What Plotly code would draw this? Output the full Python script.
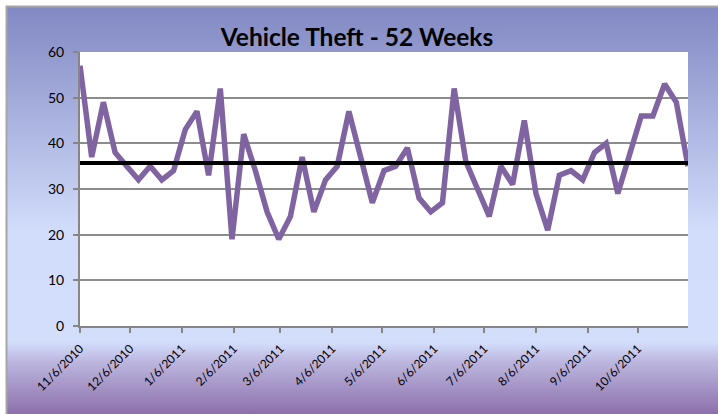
import base64
import numpy as np
import pandas as pd
import plotly.graph_objects as go

# ---- data ----
start_date = "2010-11-06"
weekly_thefts = [57, 37, 49, 38, 35, 32, 35, 32, 34, 43,
                 47, 33, 52, 19, 42, 34, 25, 19, 24, 37,
                 25, 32, 35, 47, 37, 27, 34, 35, 39, 28,
                 25, 27, 52, 36, 30, 24, 35, 31, 45, 29,
                 21, 33, 34, 32, 38, 40, 29, 38, 46, 46,
                 53, 49, 35]
week_dates = pd.date_range(start_date, periods=len(weekly_thefts), freq="7D")
average_value = float(np.mean(weekly_thefts))
tick_dates = ["2010-11-06", "2010-12-06", "2011-01-06", "2011-02-06", "2011-03-06",
              "2011-04-06", "2011-05-06", "2011-06-06", "2011-07-06", "2011-08-06",
              "2011-09-06", "2011-10-06"]
tick_labels = ["11/6/2010", "12/6/2010", "1/6/2011", "2/6/2011", "3/6/2011",
               "4/6/2011", "5/6/2011", "6/6/2011", "7/6/2011", "8/6/2011",
               "9/6/2011", "10/6/2011"]
y_ticks = [0, 10, 20, 30, 40, 50, 60]
title_text = "Vehicle Theft - 52 Weeks"

# ---- layout geometry (pixels) ----
W, H = 718, 414
L, R, T, B = 80, 688, 52, 326
PW, PH = R - L, B - T

def px(x):
    return (x - L) / PW

def py(y):
    return (B - y) / PH

svg = ('<svg xmlns="http://www.w3.org/2000/svg" width="100" height="100" preserveAspectRatio="none">'
       '<defs><linearGradient id="g" x1="0" y1="0" x2="0" y2="1">'
       '<stop offset="0" stop-color="#8288C3"/>'
       '<stop offset="0.55" stop-color="#D2DDFB"/>'
       '<stop offset="0.82" stop-color="#D3DEFB"/>'
       '<stop offset="0.865" stop-color="#BDB8E0"/>'
       '<stop offset="1" stop-color="#8A6DA8"/>'
       '</linearGradient></defs>'
       '<rect width="100" height="100" fill="url(#g)"/></svg>')
svg_uri = "data:image/svg+xml;base64," + base64.b64encode(svg.encode()).decode()

fig = go.Figure()
fig.add_trace(go.Scatter(x=week_dates, y=weekly_thefts, mode="lines",
                         line=dict(color="#8064A2", width=5.5), hoverinfo="skip",
                         showlegend=False))
fig.add_trace(go.Scatter(x=week_dates, y=[average_value] * len(weekly_thefts), mode="lines",
                         line=dict(color="#000000", width=4), hoverinfo="skip",
                         showlegend=False))

fig.add_layout_image(dict(source=svg_uri, xref="paper", yref="paper",
                          x=px(7), y=py(7), sizex=(W + 2 - 7) / PW, sizey=(H + 2 - 7) / PH,
                          sizing="stretch", xanchor="left", yanchor="top", layer="below"))

fig.add_shape(type="rect", xref="paper", yref="paper", x0=0, x1=1, y0=0, y1=1,
              fillcolor="white", line=dict(width=0), layer="below")
fig.add_shape(type="rect", xref="paper", yref="paper",
              x0=px(6.5), x1=px(W + 5), y0=py(6.5), y1=py(H + 5),
              fillcolor="rgba(0,0,0,0)", line=dict(color="#A6A6A6", width=2), layer="below")

fig.update_layout(
    width=W, height=H, autosize=False,
    margin=dict(l=L, r=W - R, t=T, b=H - B, pad=0),
    paper_bgcolor="white", plot_bgcolor="rgba(0,0,0,0)",
    font=dict(family="Lato, Carlito, sans-serif", color="black"),
    title=dict(text="<b>" + title_text + "</b>", x=357 / W, xref="container", xanchor="center",
               y=1 - 37 / H, yref="container", yanchor="middle",
               font=dict(size=24.5, family="Lato, sans-serif", color="black")),
    xaxis=dict(type="date", range=[week_dates[0], week_dates[-1]],
               tickvals=tick_dates, ticktext=tick_labels, tickangle=-45,
               tickfont=dict(size=12, color="black"), ticklabelstandoff=4,
               showgrid=False, zeroline=False,
               showline=True, linecolor="#868686", linewidth=2,
               ticks="outside", ticklen=5, tickcolor="#868686", tickwidth=2),
    yaxis=dict(range=[0, 60], tickvals=y_ticks, ticktext=[str(v) for v in y_ticks],
               tickfont=dict(size=14, color="black"), ticklabelstandoff=6,
               showgrid=True, gridcolor="#8C8C8C", gridwidth=1.5, zeroline=False,
               showline=True, linecolor="#868686", linewidth=2,
               ticks="outside", ticklen=5, tickcolor="#868686", tickwidth=2),
)

fig.write_html("out.html", config={"displayModeBar": False},
               post_script="document.body.style.margin='0px';document.body.style.overflow='hidden';")
